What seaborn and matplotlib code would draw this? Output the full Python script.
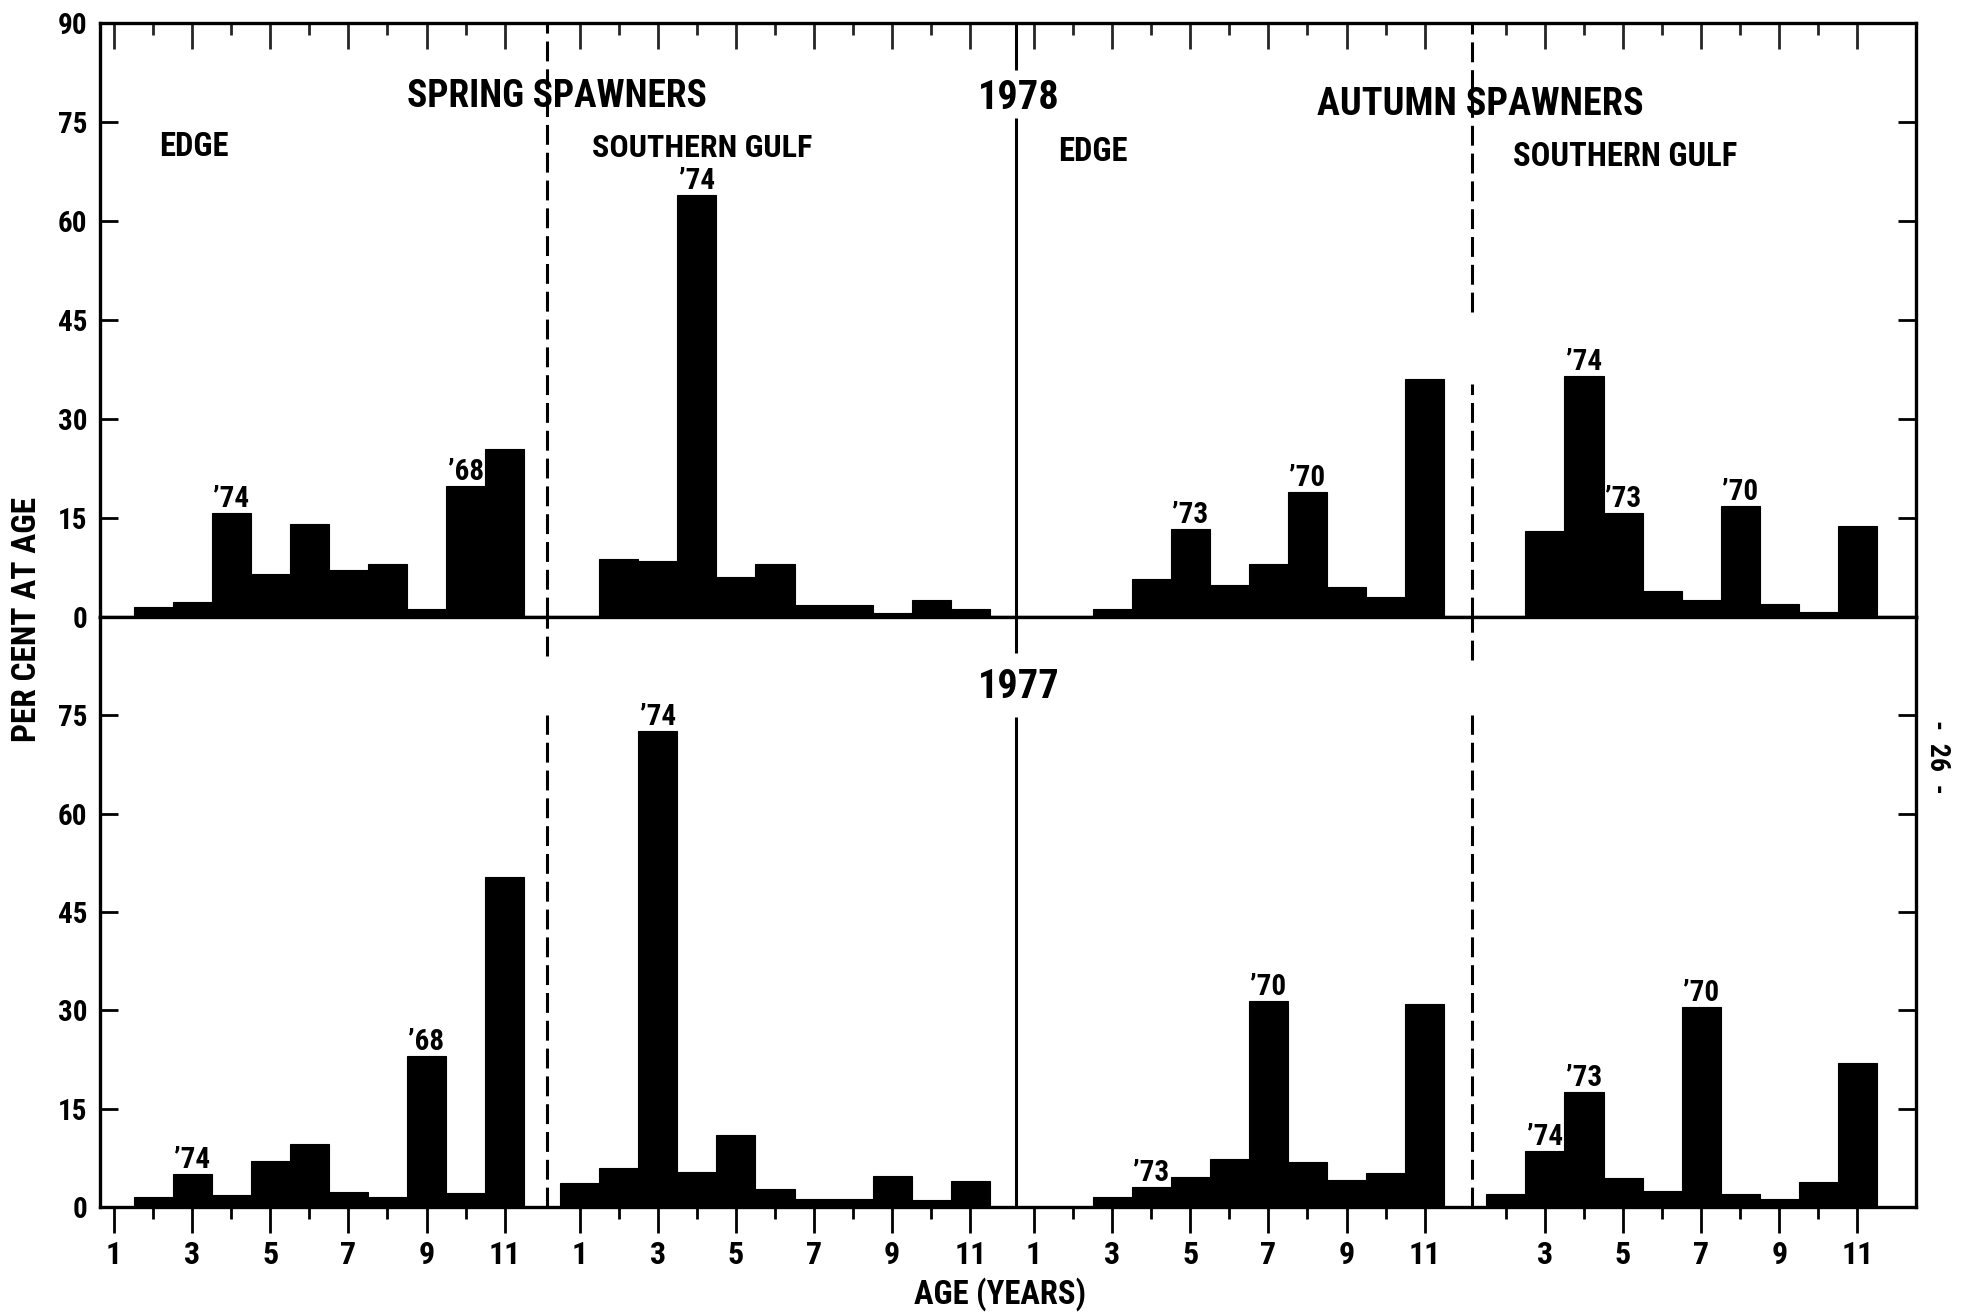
import numpy as np
import pandas as pd
import matplotlib
matplotlib.use("Agg")
import matplotlib.pyplot as plt
import seaborn as sns
from matplotlib import font_manager

# ---------------- data (per cent at age, ages 1..11) ----------------
ages = list(range(1, 12))
group_names = ["Spring Edge", "Spring Southern Gulf", "Autumn Edge", "Autumn Southern Gulf"]

spring_edge_1978 = [0, 1.5, 2.3, 15.8, 6.6, 14.1, 7.2, 8.1, 1.3, 19.8, 25.5]
spring_sgulf_1978 = [0, 8.8, 8.5, 64.0, 6.0, 8.0, 1.8, 1.8, 0.6, 2.6, 1.2]
autumn_edge_1978 = [0, 0, 1.3, 5.8, 13.3, 4.8, 8.0, 19.0, 4.5, 3.0, 36.0]
autumn_sgulf_1978 = [0, 0, 13.0, 36.5, 15.8, 4.0, 2.6, 16.8, 2.0, 0.8, 13.8]

spring_edge_1977 = [0, 1.5, 5.0, 1.9, 7.1, 9.6, 2.3, 1.5, 23.1, 2.2, 50.4]
spring_sgulf_1977 = [3.6, 5.9, 72.6, 5.4, 11.0, 2.7, 1.2, 1.2, 4.7, 1.1, 3.9]
autumn_edge_1977 = [0, 0, 1.5, 3.1, 4.6, 7.4, 31.5, 6.8, 4.2, 5.2, 31.0]
autumn_sgulf_1977 = [0, 2.0, 8.5, 17.5, 4.5, 2.5, 30.5, 2.0, 1.2, 3.8, 22.0]

# year-class annotations: (group index, age, text)
year_class_1978 = [(0, 4, "’74"), (0, 10, "’68"), (1, 4, "’74"),
                   (2, 5, "’73"), (2, 8, "’70"),
                   (3, 4, "’74"), (3, 5, "’73"), (3, 8, "’70")]
year_class_1977 = [(0, 3, "’74"), (0, 9, "’68"), (1, 3, "’74"),
                   (2, 4, "’73"), (2, 7, "’70"),
                   (3, 3, "’74"), (3, 4, "’73"), (3, 7, "’70")]

y_ticks = [0, 15, 30, 45, 60, 75, 90]

# ---------------- layout constants ----------------
GROUP_OFFSETS = [0.0, 11.92, 23.55, 34.63]
XMIN, XMAX = 0.63, 47.13
DASH1, SOLID, DASH3 = 12.09, 24.10, 35.77

names = {f.name for f in font_manager.fontManager.ttflist}
FONT = next((n for n in ["Liberation Sans Narrow", "DejaVu Sans Condensed", "Roboto Condensed"]
             if n in names), "DejaVu Sans")

sns.set_style("white")
plt.rcParams["font.family"] = [FONT, "DejaVu Sans"]
plt.rcParams["font.weight"] = "bold"
plt.rcParams["axes.linewidth"] = 2.4


def frame(series):
    rows = []
    for g, vals in enumerate(series):
        for a, v in zip(ages, vals):
            rows.append({"group": group_names[g], "pos": GROUP_OFFSETS[g] + a, "pct": v})
    return pd.DataFrame(rows)


df78 = frame([spring_edge_1978, spring_sgulf_1978, autumn_edge_1978, autumn_sgulf_1978])
df77 = frame([spring_edge_1977, spring_sgulf_1977, autumn_edge_1977, autumn_sgulf_1977])

fig = plt.figure(figsize=(19.63, 13.13), dpi=100)
fig.patch.set_facecolor("white")
L, W = 0.0507, 0.9254
ax_top = fig.add_axes([L, 0.530, W, 0.4526])
ax_bot = fig.add_axes([L, 0.0807, W, 0.4493])

for ax, df in ((ax_top, df78), (ax_bot, df77)):
    sns.barplot(data=df, x="pos", y="pct", native_scale=True, width=1.0,
                color="black", saturation=1, edgecolor="black", linewidth=0.8,
                errorbar=None, ax=ax)
    ax.set_xlim(XMIN, XMAX)
    ax.set_ylim(0, 90)
    ax.set_xlabel("")
    ax.set_ylabel("")
    ax.set_facecolor("white")
    for s in ax.spines.values():
        s.set_visible(True)
        s.set_color("black")
        s.set_linewidth(2.4)
    ax.set_yticks(y_ticks)
    ax.tick_params(axis="y", which="major", direction="in", left=True, right=True,
                   length=13, width=2.0, labelsize=21, pad=9, colors="black")

# x tick positions (odd ages = long, even ages = short)
major_pos, major_lab, minor_pos = [], [], []
for g, off in enumerate(GROUP_OFFSETS):
    for a in ages:
        if g == 3 and a == 1:
            continue
        if a % 2 == 1:
            major_pos.append(off + a)
            major_lab.append(str(a))
        else:
            minor_pos.append(off + a)

# top panel: ticks on top spine, inward
ax_top.set_xticks(major_pos)
ax_top.set_xticks(minor_pos, minor=True)
ax_top.tick_params(axis="x", which="both", top=True, bottom=False, direction="in",
                   labeltop=False, labelbottom=False, width=2.0)
ax_top.tick_params(axis="x", which="major", length=19)
ax_top.tick_params(axis="x", which="minor", length=8.5)
ax_top.set_yticklabels([str(v) for v in y_ticks])

# bottom panel: ticks on bottom spine, outward
ax_bot.set_xticks(major_pos)
ax_bot.set_xticklabels(major_lab)
ax_bot.set_xticks(minor_pos, minor=True)
ax_bot.tick_params(axis="x", which="both", top=False, bottom=True, direction="out",
                   width=2.0, labelsize=23, pad=5, colors="black")
ax_bot.tick_params(axis="x", which="major", length=19)
ax_bot.tick_params(axis="x", which="minor", length=8.5)
ax_bot.set_yticklabels([str(v) for v in y_ticks[:-1]] + [""])


def vseg(ax, x, spans, dashed):
    for y0, y1 in spans:
        ax.plot([x, x], [y0, y1], color="black", linewidth=2.2,
                linestyle=(0, (6.5, 2.6)) if dashed else "-", solid_capstyle="butt")


# divider lines
vseg(ax_top, DASH1, [(0, 90)], True)
vseg(ax_top, SOLID, [(0, 75.6), (82.8, 90)], False)
vseg(ax_top, DASH3, [(0, 35.3), (46.2, 90)], True)
vseg(ax_bot, DASH1, [(0, 75.0), (84.0, 90)], True)
vseg(ax_bot, SOLID, [(0, 74.7), (84.5, 90)], False)
vseg(ax_bot, DASH3, [(0, 75.0), (83.5, 90)], True)

# year-class labels above bars
series78 = [spring_edge_1978, spring_sgulf_1978, autumn_edge_1978, autumn_sgulf_1978]
series77 = [spring_edge_1977, spring_sgulf_1977, autumn_edge_1977, autumn_sgulf_1977]
for ax, labels, series in ((ax_top, year_class_1978, series78), (ax_bot, year_class_1977, series77)):
    for g, a, txt in labels:
        ax.text(GROUP_OFFSETS[g] + a, series[g][a - 1] + 0.9, txt, ha="center", va="baseline",
                fontsize=21, fontweight="bold", color="black")

# headings
head = dict(ha="center", va="center", color="black", fontweight="bold")
ax_top.text(12.33, 78.8, "SPRING SPAWNERS", fontsize=27, **head)
ax_top.text(24.17, 78.6, "1978", fontsize=29, **head)
ax_top.text(35.98, 77.7, "AUTUMN SPAWNERS", fontsize=27.5, **head)
ax_top.text(3.05, 71.2, "EDGE", fontsize=23.5, **head)
ax_top.text(16.06, 71.1, "SOUTHERN GULF", fontsize=23, **head)
ax_top.text(26.05, 70.4, "EDGE", fontsize=23.5, **head)
ax_top.text(39.68, 69.7, "SOUTHERN GULF", fontsize=23.5, **head)
ax_bot.text(24.17, 79.3, "1977", fontsize=29, **head)

fig.text(0.014, 0.528, "PER CENT AT AGE", rotation=90, fontsize=24, **head)
fig.text(0.5096, 0.0141, "AGE (YEARS)", fontsize=23.5, **head)
fig.text(0.987, 0.4234, "-  26  -", rotation=-90, fontsize=20, **head)

fig.savefig("out.png", dpi=100, facecolor="white")
